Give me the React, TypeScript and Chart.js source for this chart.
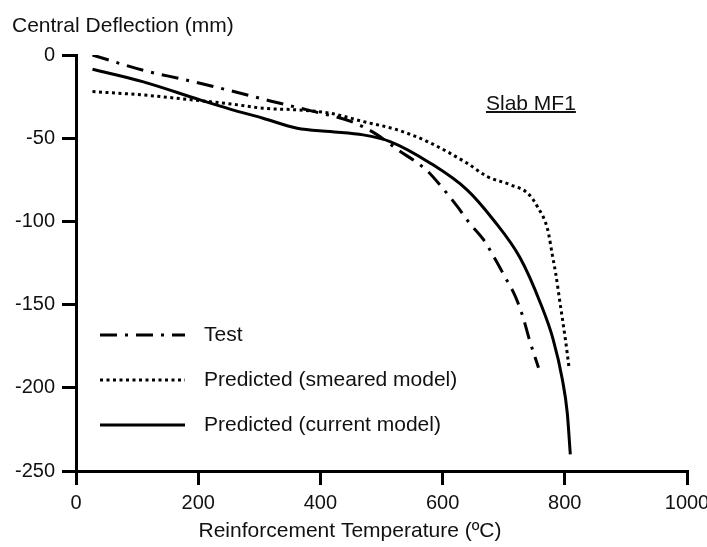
import React, { useEffect, useRef } from "react";
import { Chart, registerables } from "chart.js";

Chart.register(...registerables);

// ---- data ----
const testTemp = [27, 111, 176, 248, 318, 385, 454, 488, 527, 573, 600, 624, 644, 667, 685, 703, 719, 732, 742, 757];
const testDefl = [0, -9.3, -14.7, -21, -27.6, -33.6, -40.5, -46.8, -57, -69, -80, -91, -101, -111, -122, -134, -145, -158, -171, -188];

const smearTemp = [27, 109, 191, 257, 306, 362, 416, 470, 526, 575, 640, 673, 711, 739, 755, 772, 780, 785, 793, 801, 807];
const smearDefl = [-22, -24, -27, -29.6, -32, -33, -35, -40, -45, -52, -65, -73, -78, -83, -91, -105, -121, -131, -151, -171, -188];

const currTemp = [27, 109, 203, 252, 306, 362, 416, 470, 514, 580, 640, 683, 727, 760, 781, 796, 804, 809];
const currDefl = [-8.6, -16, -27, -32.5, -38, -44, -46, -48, -52, -65, -81, -99, -122, -149, -171, -195, -215, -240];

const seriesLabels = ["Test", "Predicted (smeared model)", "Predicted (current model)"];
const xTicks = [0, 200, 400, 600, 800, 1000];
const yTicks = [-250, -200, -150, -100, -50, 0];
const xTitle = "Reinforcement Temperature (ºC)";
const yTitle = "Central Deflection (mm)";
const annotation = "Slab MF1";

const FONT = '"Liberation Sans", Arial, Helvetica, sans-serif';
const TEXT = "#111";

function pts(xs: number[], ys: number[]) {
  return xs.map((x, i) => ({ x, y: ys[i] }));
}

const decorPlugin = {
  id: "decor",
  afterDraw(chart: any) {
    const ctx = chart.ctx as CanvasRenderingContext2D;
    ctx.save();
    ctx.fillStyle = TEXT;
    ctx.font = `21px ${FONT}`;
    ctx.textBaseline = "alphabetic";
    ctx.textAlign = "left";
    ctx.fillText(yTitle, 12, 32);
    ctx.textAlign = "center";
    ctx.fillText(xTitle, 350, 537);

    // annotation with underline
    ctx.textAlign = "left";
    ctx.fillText(annotation, 486, 110);
    const w = ctx.measureText(annotation).width;
    ctx.fillRect(486, 111, w, 2);

    // legend
    const rows = [335, 380, 425];
    chart.data.datasets.forEach((ds: any, i: number) => {
      const y = rows[i];
      ctx.save();
      ctx.strokeStyle = ds.borderColor;
      ctx.lineWidth = ds.borderWidth;
      ctx.lineCap = "butt";
      ctx.setLineDash(ds.borderDash || []);
      ctx.beginPath();
      ctx.moveTo(100, y);
      ctx.lineTo(185, y);
      ctx.stroke();
      ctx.restore();
      ctx.fillStyle = TEXT;
      ctx.fillText(ds.label, 204, y + 6);
    });
    ctx.restore();
  },
};

export default function App() {
  const ref = useRef<HTMLCanvasElement | null>(null);
  useEffect(() => {
    if (!ref.current) return;
    const chart = new Chart(ref.current, {
      type: "line",
      data: {
        datasets: [
          {
            label: seriesLabels[0],
            data: pts(testTemp, testDefl),
            borderColor: "#000",
            borderWidth: 3,
            borderDash: [17, 8, 3, 8],
            pointRadius: 0,
            fill: false,
            cubicInterpolationMode: "monotone",
          },
          {
            label: seriesLabels[1],
            data: pts(smearTemp, smearDefl),
            borderColor: "#000",
            borderWidth: 3,
            borderDash: [3, 3.5],
            pointRadius: 0,
            fill: false,
            cubicInterpolationMode: "monotone",
          },
          {
            label: seriesLabels[2],
            data: pts(currTemp, currDefl),
            borderColor: "#000",
            borderWidth: 3,
            pointRadius: 0,
            fill: false,
            cubicInterpolationMode: "monotone",
          },
        ],
      },
      options: {
        animation: false,
        responsive: false,
        devicePixelRatio: 1,
        layout: { padding: { top: 55, right: 20, left: 0, bottom: 0 } },
        plugins: {
          legend: { display: false },
          tooltip: { enabled: false },
        },
        scales: {
          x: {
            type: "linear",
            min: 0,
            max: 1000,
            afterBuildTicks: (s: any) => {
              s.ticks = xTicks.map((v) => ({ value: v }));
            },
            afterFit: (s: any) => {
              s.height = 76;
              s.paddingLeft = 0;
              s.paddingRight = 0;
            },
            border: { display: true, color: "#000", width: 3 },
            grid: { display: true, drawOnChartArea: false, drawTicks: true, tickLength: 14, color: "#000", lineWidth: 3 },
            ticks: {
              color: TEXT,
              font: { family: FONT, size: 20 },
              padding: 6,
              maxRotation: 0,
              callback: (v: any) => String(v),
            },
          },
          y: {
            type: "linear",
            min: -250,
            max: 0,
            afterBuildTicks: (s: any) => {
              s.ticks = yTicks.map((v) => ({ value: v }));
            },
            afterFit: (s: any) => {
              s.width = 76;
              s.paddingTop = 0;
              s.paddingBottom = 0;
            },
            border: { display: true, color: "#000", width: 3 },
            grid: { display: true, drawOnChartArea: false, drawTicks: true, tickLength: 14, color: "#000", lineWidth: 3 },
            ticks: { color: TEXT, font: { family: FONT, size: 20 }, padding: 7, callback: (v: any) => String(v) },
          },
        },
      },
      plugins: [decorPlugin],
    } as any);
    return () => chart.destroy();
  }, []);
  return (
    <div style={{ position: "fixed", left: 0, top: 0, width: 707, height: 547, background: "#fff" }}>
      <canvas ref={ref} width={707} height={547} style={{ width: 707, height: 547 }} />
    </div>
  );
}
